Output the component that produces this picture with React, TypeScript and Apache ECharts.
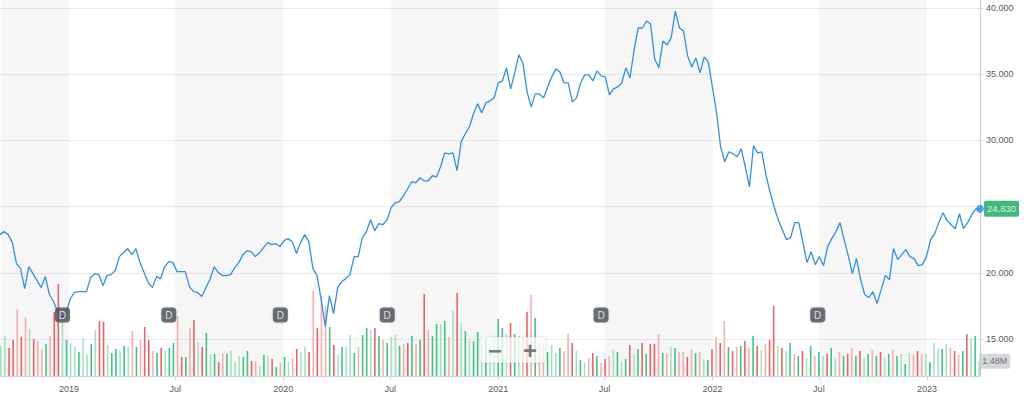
import React, { useEffect, useRef } from "react";
import * as echarts from "echarts";

// Weekly closing prices, first week 2018-09-07
const START: [number, number, number] = [2018, 8, 7];
const PRICES: number[] = [
  22.88, 23.11, 22.88, 22.28, 20.69, 20.32, 18.81, 20.47, 19.94, 19.41,
  18.88, 19.71, 18.36, 17.83, 17.07, 16.62, 16.92, 17.98, 18.51, 18.58,
  18.58, 18.58, 19.64, 19.94, 19.86, 19.03, 19.79, 19.86, 20.17, 21.22,
  21.52, 21.83, 21.37, 21.83, 20.77, 20.02, 19.26, 18.88, 19.71, 19.56,
  20.47, 20.84, 20.77, 20.09, 20.09, 20.09, 18.96, 18.58, 18.51, 18.21,
  18.88, 19.49, 20.47, 20.02, 19.79, 19.79, 19.86, 20.39, 20.77, 21.37,
  21.67, 21.6, 21.22, 21.52, 21.9, 22.28, 22.13, 22.2, 21.98, 22.43,
  22.58, 22.35, 21.45, 22.28, 22.88, 22.35, 20.32, 19.79, 17.98, 15.94,
  18.28, 16.92, 18.88, 19.34, 19.56, 19.86, 21.22, 21.22, 22.65, 23.11,
  24.01, 23.18, 23.71, 23.63, 24.01, 24.92, 25.29, 25.37, 25.82, 26.35,
  26.88, 26.8, 27.18, 26.95, 26.95, 27.33, 27.25, 28.01, 29.06, 28.99,
  29.06, 27.71, 29.89, 30.5, 31.03, 32.01, 32.76, 32.08, 32.84, 32.99,
  33.21, 34.34, 34.49, 35.48, 33.89, 35.1, 36.46, 35.85, 33.67, 32.53,
  33.51, 33.51, 33.21, 34.04, 34.8, 35.4, 35.17, 34.34, 34.34, 32.91,
  33.21, 34.34, 34.95, 34.95, 34.49, 35.25, 34.87, 34.8, 33.44, 33.89,
  34.04, 34.34, 35.48, 34.72, 36.83, 38.49, 38.49, 39.02, 38.79, 36.15,
  35.48, 37.51, 37.21, 37.74, 39.77, 38.49, 38.27, 36.38, 35.55, 36.23,
  35.1, 36.3, 35.93, 34.04, 32.16, 29.52, 28.39, 29.14, 28.99, 28.76,
  29.37, 28.01, 26.5, 29.59, 29.06, 29.14, 27.41, 26.12, 24.99, 24.01,
  23.26, 22.5, 22.65, 23.79, 23.79, 22.28, 20.77, 21.6, 20.62, 21.22,
  20.54, 21.98, 22.58, 23.11, 23.79, 22.5, 21.3, 19.94, 21.07, 19.49,
  18.36, 18.13, 18.58, 17.68, 18.73, 19.79, 19.49, 21.83, 21.0, 21.37,
  21.75, 21.22, 21.07, 20.54, 20.62, 21.22, 22.5, 22.96, 23.79, 24.54,
  23.94, 23.63, 23.33, 24.46, 23.33, 23.79, 24.39, 24.83, 24.83,
];

// Weekly volume, millions
const VOLUMES: number[] = [
  3.0, 4.0, 2.8, 3.6, 6.7, 3.9, 5.9, 4.7, 3.7, 3.5,
  2.7, 3.2, 4.0, 6.4, 9.2, 5.8, 3.6, 3.3, 2.9, 2.4,
  3.8, 2.1, 3.2, 4.6, 5.5, 5.4, 3.1, 2.3, 2.7, 2.5,
  3.0, 2.9, 4.5, 2.9, 3.6, 4.9, 3.6, 2.5, 2.3, 2.8,
  2.5, 2.8, 3.3, 6.0, 1.9, 1.9, 4.8, 5.6, 3.4, 2.9,
  4.3, 2.2, 2.2, 1.4, 2.3, 2.2, 2.5, 1.4, 2.0, 1.9,
  2.5, 1.5, 1.5, 1.0, 2.1, 2.0, 1.7, 0.9, 1.3, 1.9,
  1.4, 1.7, 2.7, 2.4, 2.9, 2.4, 8.5, 4.8, 8.0, 7.0,
  4.9, 3.1, 2.1, 2.9, 2.9, 4.1, 2.3, 2.9, 4.1, 4.8,
  4.6, 4.8, 4.0, 3.6, 3.3, 3.9, 4.1, 3.0, 3.2, 3.3,
  4.0, 3.2, 3.6, 8.2, 4.6, 4.0, 5.2, 5.2, 5.5, 3.9,
  6.5, 8.3, 5.3, 4.5, 3.5, 3.5, 4.4, 3.2, 3.8, 3.3,
  3.7, 5.7, 4.8, 4.2, 5.3, 4.2, 4.0, 3.9, 6.4, 8.1,
  5.8, 3.3, 3.2, 2.4, 3.1, 2.3, 2.8, 2.5, 4.2, 3.3,
  2.5, 1.6, 1.3, 1.8, 2.3, 2.0, 1.3, 1.7, 2.0, 2.7,
  2.4, 1.4, 1.7, 3.1, 2.2, 2.7, 3.3, 2.2, 3.2, 3.2,
  4.2, 2.3, 2.3, 2.9, 2.8, 2.4, 2.4, 1.9, 2.7, 2.3,
  2.4, 1.7, 1.6, 2.7, 3.9, 3.3, 5.5, 2.9, 2.5, 2.9,
  3.0, 3.5, 2.8, 4.0, 3.0, 2.6, 3.2, 3.6, 7.0, 3.0,
  2.8, 2.5, 3.3, 2.2, 2.0, 2.5, 1.8, 3.0, 2.0, 2.4,
  2.0, 2.2, 2.8, 1.8, 2.4, 2.0, 2.2, 2.8, 2.0, 2.5,
  1.8, 2.2, 2.6, 2.0, 2.4, 1.8, 2.2, 2.6, 2.0, 2.2,
  1.2, 2.3, 2.1, 2.5, 2.2, 2.2, 1.4, 3.3, 2.8, 2.7,
  3.2, 2.8, 2.5, 2.1, 2.5, 4.2, 3.8, 4.0, 1.48,
];

// Volume bar tone: G = up, g = up (light), R = down, r = down (light)
const VOLUME_TONES: string =
  "ggRRrRrgRr" + "rGrRRgGggG" + "ggGgRRgGGg" + "GgrGrRRrGR" +
  "gGGrRGrRgR" + "GgGRrGgggG" + "GRrgGgRGrG" + "grRggRrRrr" +
  "GRgGggGrGG" + "gRGrGggGrR" + "GrGRrGGgGr" + "gRgGgGGgGg" +
  "gGGgRGgrRr" + "GrrGggGrrR" + "gGgrRGrRrg" + "GgGRgGRGRR" +
  "rGrgGrrRrG" + "rgGRrRrGRr" + "GRrGRgrRRg" + "RgGrGRgGrG" +
  "gRGgrGRrGR" + "gGrGRgGrGg" + "GgrRrgGggG" + "grRrGRgGg";

const DIVIDENDS: string[] = ["2018-12-21", "2019-06-20", "2019-12-27", "2020-06-26", "2021-06-25", "2022-06-29"];
const SHADED: [string, string][] = [
  ["2018-09-07", "2019-01-01"],
  ["2019-07-01", "2020-01-01"],
  ["2020-07-01", "2021-01-01"],
  ["2021-07-01", "2022-01-01"],
  ["2022-07-01", "2023-01-01"],
];
const PRICE_TICKS = { min: 15, max: 40, step: 5 };
const MONTHS = ["Jan", "Feb", "Mar", "Apr", "May", "Jun", "Jul", "Aug", "Sep", "Oct", "Nov", "Dec"];

const toTime = (s: string) => {
  const [y, m, d] = s.split("-").map(Number);
  return new Date(y, m - 1, d).getTime();
};

const TONE_COLORS: Record<string, string> = {
  G: "#3cc48b",
  g: "#a4e2c4",
  R: "#f35f66",
  r: "#f8aeb0",
};

const FONT = "Liberation Sans, Arial, sans-serif";

export default function App() {
  const ref = useRef<HTMLDivElement>(null);

  useEffect(() => {
    document.body.style.margin = "0";
    if (!ref.current) return;
    const chart = echarts.init(ref.current, undefined, { renderer: "svg" });

    const dates = PRICES.map((_, i) => new Date(START[0], START[1], START[2] + 7 * i).getTime());
    const tMin = dates[0];
    const tMax = dates[dates.length - 1];
    const last = PRICES.length - 1;
    const lastPrice = PRICES[last];
    const HALF_YEAR = 182.6 * 24 * 3600 * 1000;

    const priceData = PRICES.map((p, i) => [dates[i], p]);
    const volData = VOLUMES.map((v, i) => ({
      value: [dates[i], v],
      itemStyle: { color: TONE_COLORS[VOLUME_TONES[i]] || TONE_COLORS.g },
    }));

    const labelFont = { fontSize: 9, color: "#5a5a5a", fontFamily: FONT };

    const option: any = {
      animation: false,
      grid: [
        { left: 0, right: 44, top: 8, height: 331 },
        { left: 0, right: 44, top: 0, height: 376 },
      ],
      xAxis: [
        { type: "time", gridIndex: 0, min: tMin, max: tMax, show: false },
        {
          type: "time",
          gridIndex: 1,
          min: tMin,
          max: tMax,
          splitNumber: 9,
          minInterval: HALF_YEAR,
          maxInterval: HALF_YEAR,
          axisLine: { show: true, lineStyle: { color: "#d0d0d0" } },
          axisTick: { show: true, length: 4, lineStyle: { color: "#d0d0d0" } },
          splitLine: { show: false },
          axisLabel: {
            ...labelFont,
            margin: 8,
            showMinLabel: false,
            showMaxLabel: false,
            formatter: (v: number) => {
              const d = new Date(v);
              return d.getMonth() === 0 ? String(d.getFullYear()) : MONTHS[d.getMonth()];
            },
          },
        },
      ],
      yAxis: [
        {
          type: "value",
          gridIndex: 0,
          position: "right",
          min: PRICE_TICKS.min,
          max: PRICE_TICKS.max,
          interval: PRICE_TICKS.step,
          axisLine: { show: false },
          axisTick: { show: true, length: 3, lineStyle: { color: "#d0d0d0" } },
          splitLine: { show: true, lineStyle: { color: "#ebebeb", width: 1 } },
          axisLabel: {
            ...labelFont,
            margin: 6,
            // the tick label hidden under the last-price tag is not drawn
            formatter: (v: number) => (Math.abs(v - lastPrice) < 1.2 ? "" : v.toFixed(3)),
          },
        },
        {
          type: "value",
          gridIndex: 1,
          position: "right",
          min: 0,
          max: 37.6,
          axisLine: { show: true, lineStyle: { color: "#c8c8c8" } },
          axisTick: { show: false },
          axisLabel: { show: false },
          splitLine: { show: false },
        },
      ],
      series: [
        {
          type: "bar",
          xAxisIndex: 1,
          yAxisIndex: 1,
          barWidth: 1.6,
          data: volData,
          z: 1,
          markArea: {
            silent: true,
            itemStyle: { color: "rgba(0,0,0,0.037)" },
            data: SHADED.map(([a, b]) => [{ xAxis: toTime(a) }, { xAxis: toTime(b) }]),
          },
        },
        {
          type: "line",
          xAxisIndex: 0,
          yAxisIndex: 0,
          data: priceData,
          showSymbol: false,
          lineStyle: { color: "#2f8ff0", width: 1.3 },
          z: 3,
        },
        {
          type: "scatter",
          xAxisIndex: 1,
          yAxisIndex: 1,
          data: DIVIDENDS.map((d) => [toTime(d), 6.1]),
          symbol: "roundRect",
          symbolSize: [15, 15],
          itemStyle: { color: "#4a5058", shadowBlur: 2, shadowColor: "rgba(0,0,0,0.2)" },
          label: {
            show: true,
            position: "inside",
            formatter: "D",
            color: "#ffffff",
            fontSize: 10,
            fontFamily: FONT,
          },
          z: 6,
        },
        {
          type: "scatter",
          xAxisIndex: 0,
          yAxisIndex: 0,
          data: [[dates[last], lastPrice]],
          symbol: "circle",
          symbolSize: 8,
          itemStyle: { color: "#2f8ff0" },
          label: {
            show: true,
            position: "right",
            distance: 0,
            formatter: (p: any) => Number(p.value[1]).toFixed(3),
            backgroundColor: "#12a85c",
            color: "#ffffff",
            fontSize: 9.5,
            fontFamily: FONT,
            padding: [3, 3, 3, 3],
            borderRadius: 2,
          },
          z: 7,
        },
        {
          type: "scatter",
          xAxisIndex: 1,
          yAxisIndex: 1,
          data: [[dates[last], VOLUMES[last]]],
          symbolSize: 0,
          itemStyle: { color: "rgba(0,0,0,0)" },
          label: {
            show: true,
            position: "right",
            distance: 0,
            formatter: (p: any) => Number(p.value[1]).toFixed(2) + "M",
            backgroundColor: "#c9ccd1",
            color: "#555",
            fontSize: 9,
            fontFamily: FONT,
            padding: [3, 3, 3, 3],
            borderRadius: 2,
          },
          z: 7,
        },
      ],
      graphic: [
        {
          type: "rect",
          z: 50,
          shape: { x: 480, y: 337, width: 66, height: 26, r: 3 },
          style: {
            fill: "rgba(255,255,255,0.72)",
            stroke: "rgba(0,0,0,0.07)",
            lineWidth: 1,
            shadowBlur: 4,
            shadowColor: "rgba(0,0,0,0.08)",
          },
        },
        {
          type: "text",
          z: 51,
          x: 495,
          y: 350,
          style: {
            text: "−",
            fill: "#7a7a7a",
            fontSize: 24,
            fontWeight: "bold",
            fontFamily: FONT,
            align: "center",
            verticalAlign: "middle",
          },
        },
        {
          type: "text",
          z: 51,
          x: 530,
          y: 350,
          style: {
            text: "+",
            fill: "#7a7a7a",
            fontSize: 24,
            fontWeight: "bold",
            fontFamily: FONT,
            align: "center",
            verticalAlign: "middle",
          },
        },
      ],
    };

    chart.setOption(option);
    return () => chart.dispose();
  }, []);

  return <div ref={ref} style={{ width: 1024, height: 396 }} />;
}
